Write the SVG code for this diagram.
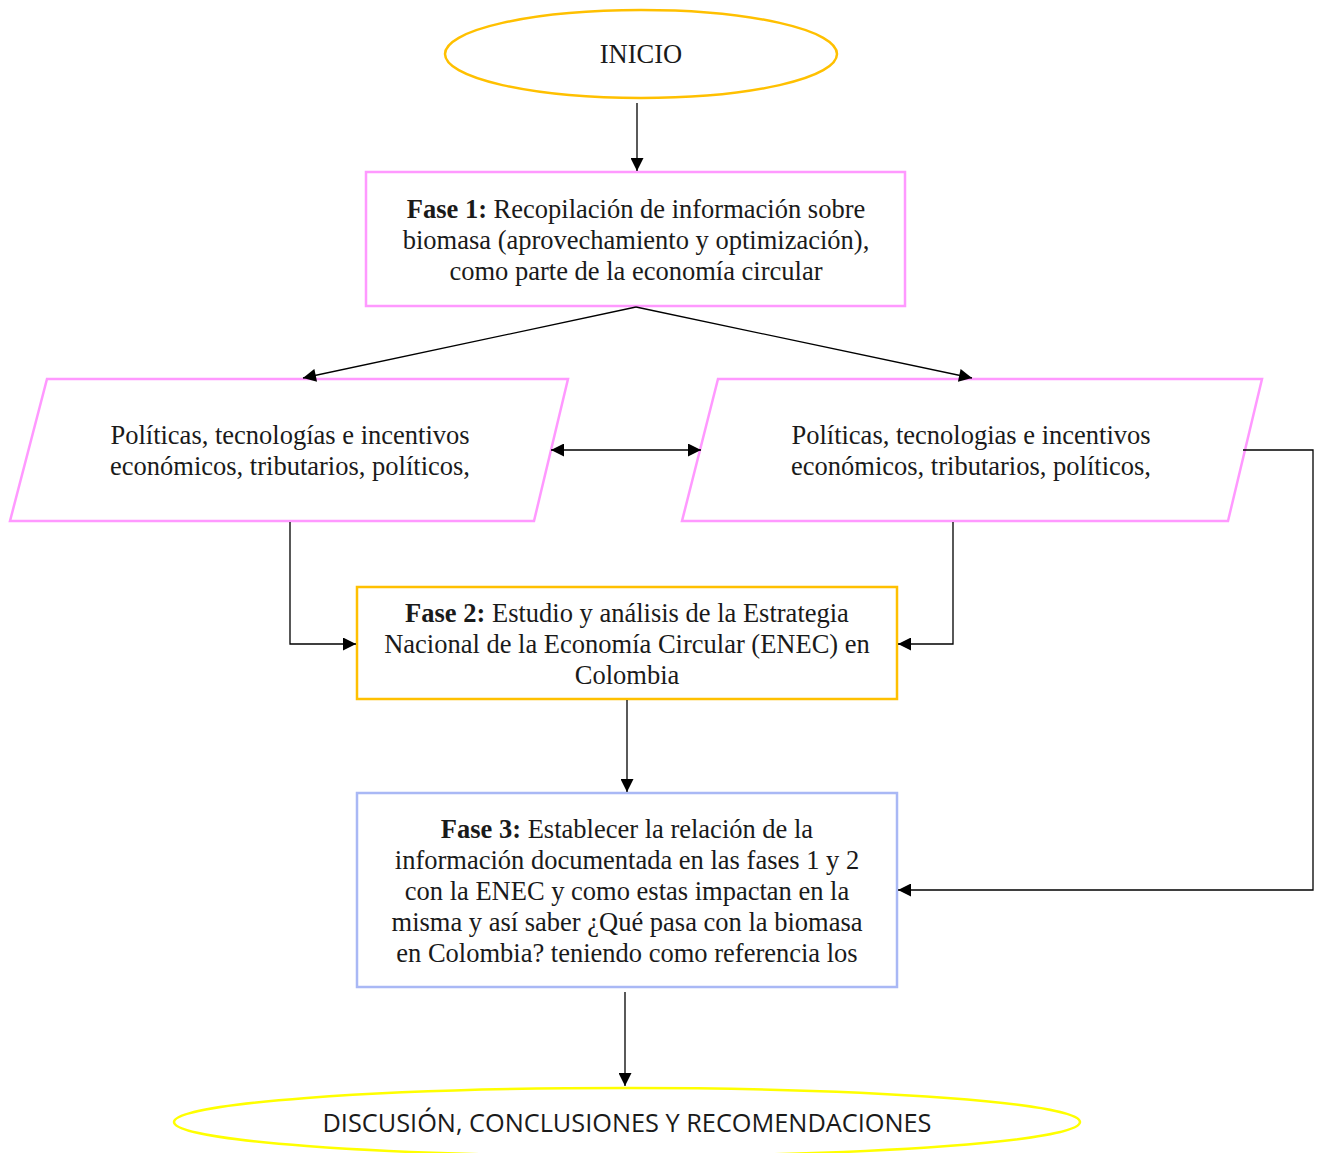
<svg xmlns="http://www.w3.org/2000/svg" width="1318" height="1153" viewBox="0 0 1318 1153">
<defs>
<marker id="ah" viewBox="0 0 10 10" refX="10" refY="5" markerWidth="14" markerHeight="13" markerUnits="userSpaceOnUse" orient="auto-start-reverse">
<path d="M0,0 L10,5 L0,10 z" fill="#000"/>
</marker>
<style>
.t{font-family:"Liberation Serif","Times New Roman",serif;font-size:26.5px;fill:#1a1a1a;text-anchor:middle}
.b{font-weight:bold}
.c{fill:none;stroke:#000;stroke-width:1.3}
.pk{fill:#fff;stroke:#FF99FF;stroke-width:2.5}
</style>
</defs>
<rect width="1318" height="1153" fill="#fff"/>
<g id="inicio">
<ellipse cx="641" cy="54" rx="196" ry="44" fill="#fff" stroke="#FFC000" stroke-width="2.5"/>
<text class="t" x="641" y="63">INICIO</text>
</g>
<g id="fase1">
<rect x="366" y="172" width="539" height="134" class="pk"/>
<text class="t" x="636" y="218"><tspan class="b">Fase 1:</tspan> Recopilación de información sobre</text>
<text class="t" x="636" y="249">biomasa (aprovechamiento y optimización),</text>
<text class="t" x="636" y="280">como parte de la economía circular</text>
</g>
<g id="pol1">
<polygon points="47,379 568,379 534,521 10,521" class="pk"/>
<text class="t" x="290" y="444">Políticas, tecnologías e incentivos</text>
<text class="t" x="290" y="475">económicos, tributarios, políticos,</text>
</g>
<g id="pol2">
<polygon points="718,379 1262,379 1228,521 682,521" class="pk"/>
<text class="t" x="971" y="444">Políticas, tecnologias e incentivos</text>
<text class="t" x="971" y="475">económicos, tributarios, políticos,</text>
</g>
<g id="fase2">
<rect x="357" y="587" width="540" height="112" fill="#fff" stroke="#FFC000" stroke-width="2.5"/>
<text class="t" x="627" y="622"><tspan class="b">Fase 2:</tspan> Estudio y análisis de la Estrategia</text>
<text class="t" x="627" y="653">Nacional de la Economía Circular (ENEC) en</text>
<text class="t" x="627" y="684">Colombia</text>
</g>
<g id="fase3">
<rect x="357" y="793" width="540" height="194" fill="#fff" stroke="#A9B8F5" stroke-width="2.5"/>
<text class="t" x="627" y="838"><tspan class="b">Fase 3:</tspan> Establecer la relación de la</text>
<text class="t" x="627" y="869">información documentada en las fases 1 y 2</text>
<text class="t" x="627" y="900">con la ENEC y como estas impactan en la</text>
<text class="t" x="627" y="931">misma y así saber ¿Qué pasa con la biomasa</text>
<text class="t" x="627" y="962">en Colombia? teniendo como referencia los</text>
</g>
<g id="fin">
<ellipse cx="627" cy="1122" rx="453" ry="34" fill="#fff" stroke="#FFFF00" stroke-width="2.5"/>
<text x="627" y="1132" font-family="'Open Sans','Liberation Sans',sans-serif" font-size="26" fill="#1a1a1a" text-anchor="middle" textLength="609" lengthAdjust="spacingAndGlyphs">DISCUSIÓN, CONCLUSIONES Y RECOMENDACIONES</text>
</g>
<g id="connectors">
<line x1="637" y1="103" x2="637" y2="171" class="c" marker-end="url(#ah)"/>
<line x1="636" y1="307" x2="303" y2="378" class="c" marker-end="url(#ah)"/>
<line x1="636" y1="307" x2="972" y2="378" class="c" marker-end="url(#ah)"/>
<line x1="551" y1="450" x2="701" y2="450" class="c" marker-start="url(#ah)" marker-end="url(#ah)"/>
<polyline points="290,522 290,644 356,644" class="c" marker-end="url(#ah)"/>
<polyline points="953,522 953,644 898,644" class="c" marker-end="url(#ah)"/>
<line x1="627" y1="700" x2="627" y2="792" class="c" marker-end="url(#ah)"/>
<polyline points="1243,450 1313,450 1313,890 898,890" class="c" marker-end="url(#ah)"/>
<line x1="625" y1="992" x2="625" y2="1086" class="c" marker-end="url(#ah)"/>
</g>
</svg>
